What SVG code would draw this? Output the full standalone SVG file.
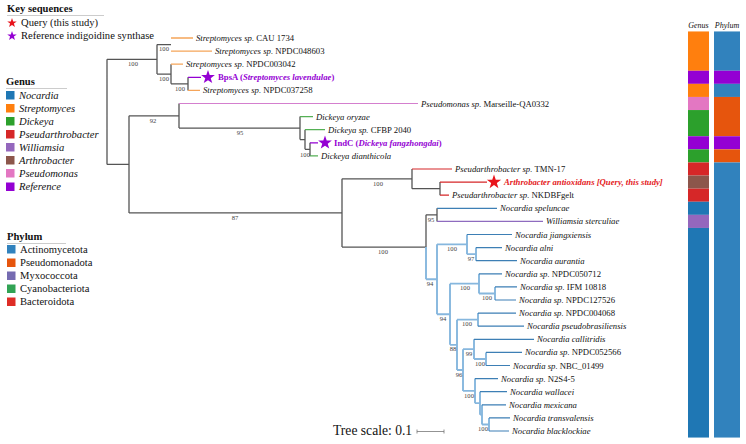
<svg xmlns="http://www.w3.org/2000/svg" width="746" height="444" viewBox="0 0 746 444">
<style>
text{font-family:"Liberation Serif","Times New Roman",serif;fill:#111}
.lf{font-size:8.7px}
.i{font-style:italic}
.bs{font-size:6.6px;fill:#444;text-anchor:middle}
.lg{font-size:10.6px}
.lt{font-size:10.6px;font-weight:bold}
.hd{font-size:8px;font-style:italic;text-anchor:middle}
.br{fill:none;stroke:#555;stroke-width:1.3}
.nb{fill:none;stroke:#86b7de;stroke-width:1.9}
.nl{fill:none;stroke:#3d7fb5;stroke-width:1.2}
.or{fill:none;stroke:#f5a55a;stroke-width:1.3}
.gr{fill:none;stroke:#55b055;stroke-width:1.2}
.rd{fill:none;stroke:#d62728;stroke-width:1.2}
.pu{fill:none;stroke:#9400d3;stroke-width:1.3}
.pk{fill:none;stroke:#d47fce;stroke-width:1.2}
.wm{fill:none;stroke:#8e6bbf;stroke-width:1.2}
.ul{stroke:#ccc;stroke-width:1}
</style>
<defs>
<path id="star" d="M0,-10 L2.35,-3.24 L9.51,-3.09 L3.80,1.24 L5.88,8.09 L0,4 L-5.88,8.09 L-3.80,1.24 L-9.51,-3.09 L-2.35,-3.24 Z"/>
</defs>

<!-- Legends -->
<g id="legend-key">
<text x="7" y="12" class="lt">Key sequences</text>
<line x1="7" y1="15.5" x2="104" y2="15.5" class="ul"/>
<use href="#star" transform="translate(12,23) scale(0.5)" fill="#e8141c"/>
<text x="21" y="26" class="lg">Query (this study)</text>
<use href="#star" transform="translate(12,36) scale(0.5)" fill="#9400d3"/>
<text x="21" y="39" class="lg">Reference indigoidine synthase</text>
</g>

<g id="legend-genus">
<text x="6" y="85" class="lt">Genus</text>
<line x1="6" y1="88.5" x2="67" y2="88.5" class="ul"/>
<rect x="6" y="91" width="8.5" height="8.5" fill="#1f77b4"/><text x="19" y="98.5" class="lg i">Nocardia</text>
<rect x="6" y="104" width="8.5" height="8.5" fill="#ff7f0e"/><text x="19" y="111.5" class="lg i">Streptomyces</text>
<rect x="6" y="117" width="8.5" height="8.5" fill="#2ca02c"/><text x="19" y="124.5" class="lg i">Dickeya</text>
<rect x="6" y="130" width="8.5" height="8.5" fill="#d62728"/><text x="19" y="137.5" class="lg i">Pseudarthrobacter</text>
<rect x="6" y="143" width="8.5" height="8.5" fill="#9467bd"/><text x="19" y="150.5" class="lg i">Williamsia</text>
<rect x="6" y="156" width="8.5" height="8.5" fill="#8c564b"/><text x="19" y="163.5" class="lg i">Arthrobacter</text>
<rect x="6" y="169" width="8.5" height="8.5" fill="#e377c2"/><text x="19" y="176.5" class="lg i">Pseudomonas</text>
<rect x="6" y="182.5" width="8.5" height="8.5" fill="#9400d3"/><text x="19" y="190" class="lg i">Reference</text>
</g>

<g id="legend-phylum">
<text x="7" y="240" class="lt">Phylum</text>
<line x1="7" y1="243.5" x2="66" y2="243.5" class="ul"/>
<rect x="7" y="245" width="8.5" height="8.5" fill="#3182bd"/><text x="20" y="252.5" class="lg">Actinomycetota</text>
<rect x="7" y="258.5" width="8.5" height="8.5" fill="#e6550d"/><text x="20" y="266" class="lg">Pseudomonadota</text>
<rect x="7" y="271.5" width="8.5" height="8.5" fill="#756bb1"/><text x="20" y="279" class="lg">Myxococcota</text>
<rect x="7" y="284.5" width="8.5" height="8.5" fill="#31a354"/><text x="20" y="292" class="lg">Cyanobacteriota</text>
<rect x="7" y="297.5" width="8.5" height="8.5" fill="#de2d26"/><text x="20" y="305" class="lg">Bacteroidota</text>
</g>

<!-- Connectors -->
<g id="connectors">
<path class="br" d="M107,59.3V164.4 M107,59.3H157 M157,44.55V74.03 M157,44.55H171 M157,74.03H171 M171,64.2V83.85 M171,83.85H188 M188,77.3V90.4 M107,164.4H129 M129,115.78V212.95 M129,115.78H179 M179,103.5V128.06 M179,128.06H300 M300,116.6V139.53 M300,139.53H305 M305,129.7V149.35 M305,149.35H310 M310,142.8V155.9 M129,212.95H342 M342,178.83V247.07 M342,178.83H412 M342,247.07H426 M412,169V188.65 M412,188.65H440 M440,182.1V195.2 M426,214.85V247.07 M426,214.85H437 M437,208.3V221.4"/>
<path class="or" d="M171,38H193 M171,51.1H212 M171,64.2H183 M188,90.4H200"/>
<path class="pu" d="M188,77.3H201 M310,142.8H318"/>
<path class="pk" d="M179,103.5H418"/>
<path class="gr" d="M300,116.6H313 M305,129.7H325 M310,155.9H318"/>
<path class="rd" d="M412,169H452 M440,182.1H487 M440,195.2H449"/>
<path class="wm" d="M437,221.4H543"/>
<path class="nb" d="M426,247.07V279.28 M426,279.28H437 M437,244.33V314.23 M437,244.33H467 M467,234.5V254.15 M467,254.15H476 M476,247.6V260.7 M437,314.23H450 M450,283.63V344.83 M450,283.63H479 M479,273.8V293.45 M479,293.45H495 M495,286.9V300 M450,344.83H457 M457,319.65V370 M457,319.65H478 M478,313.1V326.2 M457,370H463 M463,349.13V390.88 M463,349.13H474 M474,339.3V358.95 M474,358.95H486 M486,352.4V365.5 M463,390.88H475 M475,378.6V403.16 M475,403.16H480 M480,391.7V414.63 M480,414.63H482 M482,404.8V424.45 M482,424.45H489 M489,417.9V431"/>
<path class="nl" d="M437,208.3H497 M467,234.5H512 M476,247.6H502 M476,260.7H517 M479,273.8H502 M495,286.9H517 M495,300H516 M478,313.1H516 M478,326.2H524 M474,339.3H534 M486,352.4H522 M486,365.5H510 M475,378.6H498 M480,391.7H507 M482,404.8H506 M489,417.9H510 M489,431H509"/>
</g>

<!-- Bootstrap values -->
<g id="bootstrap">
<text x="133" y="65.5" class="bs">100</text>
<text x="164" y="51" class="bs">100</text>
<text x="164" y="81" class="bs">100</text>
<text x="180" y="90.5" class="bs">100</text>
<text x="153" y="122.5" class="bs">92</text>
<text x="240" y="134.5" class="bs">95</text>
<text x="305" y="156.5" class="bs">100</text>
<text x="235" y="219.5" class="bs">87</text>
<text x="378" y="185.5" class="bs">100</text>
<text x="383" y="253.5" class="bs">100</text>
<text x="431" y="221.5" class="bs">95</text>
<text x="430" y="286" class="bs">94</text>
<text x="452" y="250.5" class="bs">100</text>
<text x="471" y="260.5" class="bs">97</text>
<text x="443" y="321" class="bs">94</text>
<text x="465" y="290" class="bs">100</text>
<text x="487" y="300" class="bs">100</text>
<text x="467" y="326" class="bs">100</text>
<text x="453" y="351" class="bs">88</text>
<text x="469" y="355.5" class="bs">99</text>
<text x="459" y="376.5" class="bs">96</text>
<text x="480" y="365.5" class="bs">100</text>
<text x="469" y="397.5" class="bs">100</text>
<text x="483" y="430.5" class="bs">100</text>
</g>

<!-- Leaves -->
<g id="leaf-1"><text x="196" y="41" class="lf"><tspan class="i">Streptomyces sp.</tspan> CAU 1734</text></g>
<g id="leaf-2"><text x="215" y="54.1" class="lf"><tspan class="i">Streptomyces sp.</tspan> NPDC048603</text></g>
<g id="leaf-3"><text x="186" y="67.2" class="lf"><tspan class="i">Streptomyces sp.</tspan> NPDC003042</text></g>
<g id="leaf-4"><use href="#star" transform="translate(208,77.3) scale(0.72)" fill="#9400d3"/><text x="218" y="80.3" class="lf" font-weight="bold" style="fill:#9400d3">BpsA (<tspan class="i">Streptomyces lavendulae</tspan>)</text></g>
<g id="leaf-5"><text x="203" y="93.4" class="lf"><tspan class="i">Streptomyces sp.</tspan> NPDC037258</text></g>
<g id="leaf-6"><text x="421" y="106.5" class="lf"><tspan class="i">Pseudomonas sp.</tspan> Marseille-QA0332</text></g>
<g id="leaf-7"><text x="316" y="119.6" class="lf i">Dickeya oryzae</text></g>
<g id="leaf-8"><text x="328" y="132.7" class="lf"><tspan class="i">Dickeya sp.</tspan> CFBP 2040</text></g>
<g id="leaf-9"><use href="#star" transform="translate(325,142.8) scale(0.72)" fill="#9400d3"/><text x="334" y="145.8" class="lf" font-weight="bold" style="fill:#9400d3">IndC (<tspan class="i">Dickeya fangzhongdai</tspan>)</text></g>
<g id="leaf-10"><text x="321" y="158.9" class="lf i">Dickeya dianthicola</text></g>
<g id="leaf-11"><text x="455" y="172" class="lf"><tspan class="i">Pseudarthrobacter sp.</tspan> TMN-17</text></g>
<g id="leaf-12"><use href="#star" transform="translate(494,182.1) scale(0.75)" fill="#e8141c"/><text x="504" y="185.1" class="lf i" font-weight="bold" style="fill:#e41a1c">Arthrobacter antioxidans [Query, this study]</text></g>
<g id="leaf-13"><text x="452" y="198.2" class="lf"><tspan class="i">Pseudarthrobacter sp.</tspan> NKDBFgelt</text></g>
<g id="leaf-14"><text x="500" y="211.3" class="lf i">Nocardia speluncae</text></g>
<g id="leaf-15"><text x="546" y="224.4" class="lf i">Williamsia sterculiae</text></g>
<g id="leaf-16"><text x="515" y="237.5" class="lf i">Nocardia jiangxiensis</text></g>
<g id="leaf-17"><text x="505" y="250.6" class="lf i">Nocardia alni</text></g>
<g id="leaf-18"><text x="520" y="263.7" class="lf i">Nocardia aurantia</text></g>
<g id="leaf-19"><text x="505" y="276.8" class="lf"><tspan class="i">Nocardia sp.</tspan> NPDC050712</text></g>
<g id="leaf-20"><text x="520" y="289.9" class="lf"><tspan class="i">Nocardia sp.</tspan> IFM 10818</text></g>
<g id="leaf-21"><text x="519" y="303" class="lf"><tspan class="i">Nocardia sp.</tspan> NPDC127526</text></g>
<g id="leaf-22"><text x="519" y="316.1" class="lf"><tspan class="i">Nocardia sp.</tspan> NPDC004068</text></g>
<g id="leaf-23"><text x="527" y="329.2" class="lf i">Nocardia pseudobrasiliensis</text></g>
<g id="leaf-24"><text x="537" y="342.3" class="lf i">Nocardia callitridis</text></g>
<g id="leaf-25"><text x="525" y="355.4" class="lf"><tspan class="i">Nocardia sp.</tspan> NPDC052566</text></g>
<g id="leaf-26"><text x="513" y="368.5" class="lf"><tspan class="i">Nocardia sp.</tspan> NBC_01499</text></g>
<g id="leaf-27"><text x="501" y="381.6" class="lf"><tspan class="i">Nocardia sp.</tspan> N2S4-5</text></g>
<g id="leaf-28"><text x="510" y="394.7" class="lf i">Nocardia wallacei</text></g>
<g id="leaf-29"><text x="509" y="407.8" class="lf i">Nocardia mexicana</text></g>
<g id="leaf-30"><text x="513" y="420.9" class="lf i">Nocardia transvalensis</text></g>
<g id="leaf-31"><text x="512" y="434" class="lf i">Nocardia blacklockiae</text></g>

<!-- Tree scale -->
<g id="tree-scale">
<text x="333" y="435" style="font-size:13.6px">Tree scale: 0.1</text>
<path d="M417,431.5H444 M417,429.5V433.5 M444,429.5V433.5" fill="none" stroke="#777" stroke-width="0.8"/>
</g>

<!-- Annotation strips -->
<g id="strip-genus">
<text x="698.5" y="28" class="hd">Genus</text>
<rect x="688" y="31.45" width="21" height="39.3" fill="#ff7f0e"/>
<rect x="688" y="70.75" width="21" height="13.1" fill="#9400d3"/>
<rect x="688" y="83.85" width="21" height="13.1" fill="#ff7f0e"/>
<rect x="688" y="96.95" width="21" height="13.1" fill="#e377c2"/>
<rect x="688" y="110.05" width="21" height="26.2" fill="#2ca02c"/>
<rect x="688" y="136.25" width="21" height="13.1" fill="#9400d3"/>
<rect x="688" y="149.35" width="21" height="13.1" fill="#2ca02c"/>
<rect x="688" y="162.45" width="21" height="13.1" fill="#d62728"/>
<rect x="688" y="175.55" width="21" height="13.1" fill="#8c564b"/>
<rect x="688" y="188.65" width="21" height="13.1" fill="#d62728"/>
<rect x="688" y="201.75" width="21" height="13.1" fill="#1f77b4"/>
<rect x="688" y="214.85" width="21" height="13.1" fill="#9467bd"/>
<rect x="688" y="227.95" width="21" height="209.6" fill="#1f77b4"/>
</g>
<g id="strip-phylum">
<text x="727" y="28" class="hd">Phylum</text>
<rect x="714" y="31.45" width="26" height="39.3" fill="#3182bd"/>
<rect x="714" y="70.75" width="26" height="13.1" fill="#9400d3"/>
<rect x="714" y="83.85" width="26" height="13.1" fill="#3182bd"/>
<rect x="714" y="96.95" width="26" height="39.3" fill="#e6550d"/>
<rect x="714" y="136.25" width="26" height="13.1" fill="#9400d3"/>
<rect x="714" y="149.35" width="26" height="13.1" fill="#e6550d"/>
<rect x="714" y="162.45" width="26" height="275.1" fill="#3182bd"/>
</g>
</svg>
